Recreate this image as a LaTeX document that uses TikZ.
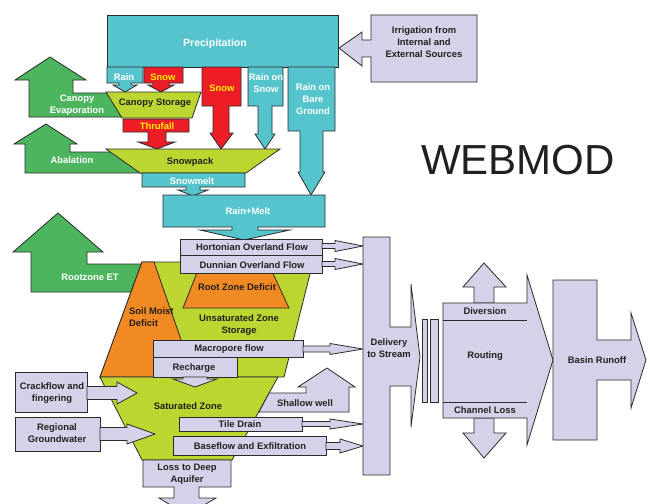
\documentclass[tikz,border=0pt]{standalone}
\usepackage{fontspec}
\setmainfont{Liberation Sans}
\definecolor{tealC}{HTML}{55C4CC}
\definecolor{redC}{HTML}{EC1D25}
\definecolor{yelC}{HTML}{FFF200}
\definecolor{grnC}{HTML}{4DB55E}
\definecolor{lgrC}{HTML}{BDD530}
\definecolor{orgC}{HTML}{F28A24}
\definecolor{lavC}{HTML}{D4D2E8}
\definecolor{lineC}{HTML}{2B2B2B}
\definecolor{txtC}{HTML}{231F20}
\newcommand\lblfont{\bfseries\fontsize{9.4}{12}\selectfont}
\newcommand\flowarrow[6]{% x1, xhead, xtip, y, shaft half, head half
  \draw[lav] (#1,#4-#5) -- (#2,#4-#5) -- (#2,#4-#6) -- (#3,#4) -- (#2,#4+#6) -- (#2,#4+#5) -- (#1,#4+#5) -- cycle;}
\tikzset{
  shp/.style={draw=lineC, line width=0.8pt, line join=miter},
  teal/.style={shp, fill=tealC},
  redb/.style={shp, fill=redC},
  grn/.style={shp, fill=grnC},
  lgr/.style={shp, fill=lgrC},
  org/.style={shp, fill=orgC},
  lav/.style={shp, fill=lavC},
  lbl/.style={font=\lblfont, align=center, inner sep=0pt, text=txtC},
  wlbl/.style={lbl, text=white},
  ylbl/.style={lbl, text=yelC},
}
\begin{document}
\begin{tikzpicture}[x=1pt,y=-1pt]
\useasboundingbox (0,0) rectangle (650,503);
\fill[white] (0,0) rectangle (650,503);
% green arrows (evaporation etc.)
\draw[grn] (29,117) -- (29,80) -- (15,80) -- (50,57) -- (86,80) -- (73,80) -- (73,93) -- (110,93) -- (124,117) -- cycle;
\draw[grn] (25,173) -- (25,144) -- (14,144) -- (46,124) -- (77,144) -- (70,144) -- (70,152) -- (112,152) -- (141,173) -- cycle;
\draw[grn] (31,292) -- (31,252) -- (13,252) -- (58,213) -- (103,252) -- (87,252) -- (87,264) -- (142,264) -- (131,292) -- cycle;
% precipitation
\draw[teal] (107,15) rectangle (338,67);
\draw[teal] (107,67) -- (143,67) -- (143,83) -- (131,83) -- (131,85) -- (137,85) -- (125,92) -- (113,85) -- (119,85) -- (119,83) -- (107,83) -- cycle;
\draw[redb] (144,67) -- (183,67) -- (183,83) -- (169,83) -- (169,85) -- (174,85) -- (161,92) -- (148,85) -- (153,85) -- (153,83) -- (144,83) -- cycle;
\draw[redb] (202,67) -- (241,67) -- (241,106) -- (229,106) -- (229,133) -- (233,133) -- (221,149) -- (210,133) -- (213,133) -- (213,106) -- (202,106) -- cycle;
\draw[teal] (248,67) -- (283,67) -- (283,106) -- (272,106) -- (272,134) -- (275,134) -- (265,149) -- (255,134) -- (258,134) -- (258,106) -- (248,106) -- cycle;
\draw[teal] (288,67) -- (335,67) -- (335,131) -- (323,131) -- (323,172) -- (325,172) -- (311,195) -- (298,172) -- (300,172) -- (300,131) -- (288,131) -- cycle;
% canopy
\draw[lgr] (106,92) -- (201,92) -- (192,118) -- (122,118) -- cycle;
\draw[redb] (123,119) -- (189,119) -- (189,132) -- (166,132) -- (166,142) -- (175,142) -- (157,149) -- (138,142) -- (148,142) -- (148,132) -- (123,132) -- cycle;
% snowpack
\draw[lgr] (106,149) -- (280,149) -- (246,173) -- (140,173) -- cycle;
\draw[teal] (142,173) -- (245,173) -- (245,187) -- (200,187) -- (200,190) -- (208,190) -- (193,196) -- (178,190) -- (186,190) -- (186,187) -- (142,187) -- cycle;
% rain+melt
\draw[teal] (163,195) -- (325,195) -- (325,227) -- (258,227) -- (258,230) -- (290,230) -- (244,240) -- (200,230) -- (232,230) -- (232,227) -- (163,227) -- cycle;
% irrigation
\draw[lav] (371,15) -- (477,15) -- (477,82) -- (371,82) -- (371,57) -- (362,57) -- (362,66) -- (339,48) -- (362,32) -- (362,40) -- (371,40) -- cycle;
% soil funnel
\draw[lgr] (142,262) -- (313,262) -- (284,377) -- (100,377) -- cycle;
\draw[org] (142,262) -- (154,262) -- (194,377) -- (100,377) -- cycle;
\draw[org] (200,265) -- (269,265) -- (289,308) -- (183,308) -- cycle;
\draw[lgr] (100,377) -- (278,377) -- (232,460) -- (142,460) -- cycle;
% overland flows
\draw[lav] (180,239) rectangle (322,255);
\draw[lav] (180,255) rectangle (322,273);
\flowarrow{322}{335}{363}{246}{2.5}{5.5}
\flowarrow{322}{335}{363}{264}{2.5}{5.5}
% macropore, recharge
\draw[lav] (153,340) rectangle (303,357);
\flowarrow{303}{330}{363}{349}{3}{5.5}
\draw[lav] (153,357) rectangle (237,377);
\draw[lav] (183,377) -- (183,379) -- (173,379) -- (195,387) -- (217,379) -- (207,379) -- (207,377) -- cycle;
% inflows
\draw[lav] (15,372) rectangle (87,412);
\flowarrow{87}{117}{137}{393}{6.5}{11}
\draw[lav] (15,417) rectangle (100,451);
\flowarrow{100}{127}{155}{434}{6.5}{10}
% shallow well
\draw[lav] (269,393) -- (306,393) -- (306,387) -- (298,387) -- (327,368) -- (355,387) -- (349,387) -- (349,412) -- (259,412) -- cycle;
% tile drain, baseflow
\draw[lav] (179,417) rectangle (302,431);
\flowarrow{302}{330}{363}{424}{2.5}{5}
\draw[lav] (173,436) rectangle (326,455);
\flowarrow{326}{340}{363}{446}{3.5}{7}
% loss to deep aquifer
\draw[lav] (143,460) -- (231,460) -- (231,487) -- (199,487) -- (199,498) -- (216,498) -- (187,515) -- (159,498) -- (174,498) -- (174,487) -- (143,487) -- cycle;
% delivery to stream
\draw[lav] (363,237) -- (390,237) -- (390,327) -- (411,327) -- (411,284) -- (420,357) -- (411,427) -- (411,386) -- (390,386) -- (390,475) -- (363,475) -- cycle;
\draw[lav] (422,319) rectangle (427,402);
\draw[lav] (430,319) rectangle (438,402);
% routing
\draw[lav] (474,303) -- (474,287) -- (463,287) -- (484,263) -- (506,287) -- (494,287) -- (494,303) -- cycle;
\draw[lav] (474,418) -- (474,433) -- (463,433) -- (484,458) -- (506,433) -- (494,433) -- (494,418) -- cycle;
\draw[lav] (443,303) -- (527,303) -- (527,275) -- (553,360) -- (527,445) -- (527,418) -- (443,418) -- cycle;
\draw[shp] (443,320) -- (527,320);
\draw[shp] (443,402) -- (527,402);
% basin runoff
\draw[lav] (553,280) -- (597,280) -- (597,340) -- (631,340) -- (631,313) -- (646,360) -- (631,408) -- (631,380) -- (597,380) -- (597,440) -- (553,440) -- cycle;
% labels
\node[wlbl, font=\bfseries\fontsize{10.5}{12}\selectfont] (tprecip) at (215,44) {Precipitation};
\node[wlbl] (train) at (124,77) {Rain};
\node[ylbl] (tsnow1) at (163,77) {Snow};
\node[lbl] (tcanopy) at (155,103) {Canopy Storage};
\node[wlbl] (tcanevap) at (77,105) {Canopy\\Evaporation};
\node[ylbl] (tthru) at (157,126) {Thrufall};
\node[ylbl] (tsnow2) at (222,88) {Snow};
\node[wlbl] (trainsnow) at (266,83) {Rain on\\Snow};
\node[wlbl] (trainbare) at (313,99) {Rain on\\Bare\\Ground};
\node[wlbl] (tabal) at (72,160) {Abalation};
\node[lbl] (tsnowpack) at (190,162) {Snowpack};
\node[wlbl] (tsnowmelt) at (192,181) {Snowmelt};
\node[wlbl] (trainmelt) at (248,211) {Rain+Melt};
\node[lbl] (tirr) at (424,42) {Irrigation from\\Internal and\\External Sources};
\node[inner sep=0pt, text=txtC, font=\fontsize{42}{42}\selectfont] (twebmod) at (518,160) {WEBMOD};
\node[wlbl] (tret) at (90,277) {Rootzone ET};
\node[lbl] (thort) at (252,247) {Hortonian Overland Flow};
\node[lbl] (tdunn) at (252,265) {Dunnian Overland Flow};
\node[lbl] (trzd) at (237,287) {Root Zone Deficit};
\node[lbl, align=left, anchor=west] (tsmd) at (129,317) {Soil Moist\\Deficit};
\node[lbl] (tunsat) at (239,325) {Unsaturated Zone\\Storage};
\node[lbl] (tmacro) at (229,349) {Macropore flow};
\node[lbl] (trech) at (194,368) {Recharge};
\node[lbl] (tcrack) at (52,393) {Crackflow and\\fingering};
\node[lbl] (tregional) at (57,433) {Regional\\Groundwater};
\node[lbl] (tsat) at (188,406) {Saturated Zone};
\node[lbl] (tshallow) at (305,403) {Shallow well};
\node[lbl] (ttile) at (240,424) {Tile Drain};
\node[lbl] (tbase) at (250,446) {Baseflow and Exfiltration};
\node[lbl] (tloss) at (187,474) {Loss to Deep\\Aquifer};
\node[lbl] (tdeliv) at (389,348) {Delivery\\to Stream};
\node[lbl] (tdiv) at (485,311) {Diversion};
\node[lbl] (trout) at (485,356) {Routing};
\node[lbl] (tchan) at (485,410) {Channel Loss};
\node[lbl] (tbasin) at (597,360) {Basin Runoff};
\end{tikzpicture}
\end{document}
